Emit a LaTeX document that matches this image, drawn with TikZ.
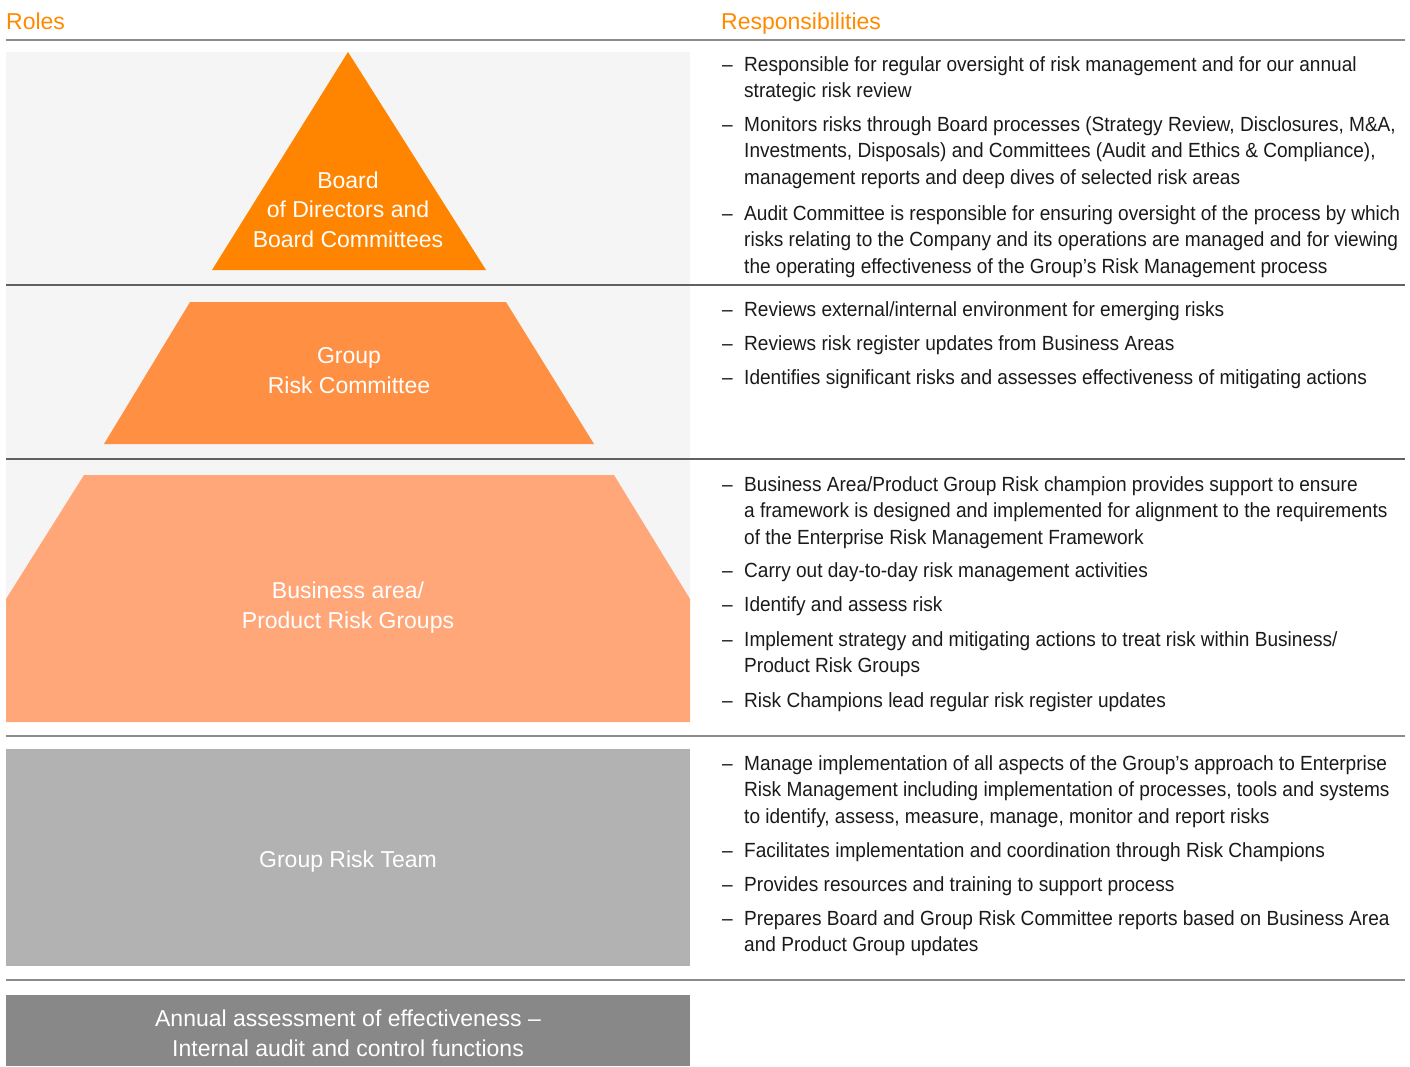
\documentclass[tikz,border=0pt]{standalone}
\usepackage{fontspec}
\setmainfont{Liberation Sans}
\newfontfamily\respfont{Liberation Sans}[FakeStretch=0.93]
\usetikzlibrary{positioning}

\definecolor{hdorange}{HTML}{FF8A00}
\definecolor{tierA}{HTML}{FF8400}
\definecolor{tierB}{HTML}{FF9043}
\definecolor{tierC}{HTML}{FFA778}
\definecolor{tierD}{HTML}{B2B2B2}
\definecolor{tierE}{HTML}{888888}
\definecolor{panelbg}{HTML}{F5F5F5}
\definecolor{resptext}{HTML}{1A1A1A}

\begin{document}
\begin{tikzpicture}[
    x=1pt, y=-1pt,
    head/.style = {anchor=base west, inner sep=0pt, text=hdorange,
                font=\fontsize{23}{28}\selectfont},
    role/.style = {anchor=base, inner sep=0pt, text=white, align=center,
                font=\fontsize{23}{29.3}\selectfont},
    resp/.style = {anchor=base west, inner sep=0pt, align=left, text=resptext,
                font=\respfont\fontsize{20.5}{26.6}\selectfont},
    bullet/.style = {anchor=base west, inner sep=0pt, text=resptext,
                font=\respfont\fontsize{20.5}{26.6}\selectfont},
    rule/.style = {draw=black!45, line width=1.5pt},
    darkrule/.style = {draw=black!62, line width=1.5pt}
                    ]
\useasboundingbox (0,0) rectangle (1410,1066);

% backgrounds and pyramid
\fill[panelbg] (6,52) rectangle (690,722);
\fill[tierA] (348,52) -- (486,270) -- (212,270) -- cycle;
\fill[tierB] (190,302) -- (506,302) -- (594,444) -- (104,444) -- cycle;
\fill[tierC] (84,475) -- (614,475) -- (690,599) -- (690,722) -- (6,722) -- (6,599) -- cycle;
\fill[tierD] (6,749) rectangle (690,966);
\fill[tierE] (6,995) rectangle (690,1066);

% rules
\draw[rule] (6,40) -- (1405,40);
\draw[darkrule] (6,285) -- (1405,285);
\draw[darkrule] (6,459) -- (1405,459);
\draw[rule] (6,736) -- (1405,736);
\draw[rule] (6,980) -- (1405,980);

% headings
\node[head] (roles) at (6,29) {Roles};
\node[head] (respons) at (721,29) {Responsibilities};

% roles (multi-line nodes sit on their last baseline)
\node[role] (board) at (348,247) {Board\\of Directors and\\Board Committees};
\node[role] (grc) at (349,393) {Group\\Risk Committee};
\node[role] (bapr) at (348,628) {Business area/\\Product Risk Groups};
\node[role] (grt) at (348,867) {Group Risk Team};
\node[role] (annual) at (348,1056) {Annual assessment of effectiveness –\\Internal audit and control functions};

% board responsibilities
\node[bullet] (d11) at (722,71) {–};
\node[resp] (r11) at (744,97.6) {Responsible for regular oversight of risk management and for our annual\\strategic risk review};
\node[bullet] (d12) at (722,131) {–};
\node[resp] (r12) at (744,184.2) {Monitors risks through Board processes (Strategy Review, Disclosures, M\&A,\\Investments, Disposals) and Committees (Audit and Ethics \& Compliance),\\management reports and deep dives of selected risk areas};
\node[bullet] (d13) at (722,220) {–};
\node[resp] (r13) at (744,273.2) {Audit Committee is responsible for ensuring oversight of the process by which\\risks relating to the Company and its operations are managed and for viewing\\the operating effectiveness of the Group’s Risk Management process};

% group risk committee responsibilities
\node[bullet] (d21) at (722,316) {–};
\node[resp] (r21) at (744,316) {Reviews external/internal environment for emerging risks};
\node[bullet] (d22) at (722,350) {–};
\node[resp] (r22) at (744,350) {Reviews risk register updates from Business Areas};
\node[bullet] (d23) at (722,384) {–};
\node[resp] (r23) at (744,384) {Identifies significant risks and assesses effectiveness of mitigating actions};

% business area responsibilities
\node[bullet] (d31) at (722,491) {–};
\node[resp] (r31) at (744,544.2) {Business Area/Product Group Risk champion provides support to ensure\\a framework is designed and implemented for alignment to the requirements\\of the Enterprise Risk Management Framework};
\node[bullet] (d32) at (722,577) {–};
\node[resp] (r32) at (744,577) {Carry out day-to-day risk management activities};
\node[bullet] (d33) at (722,611) {–};
\node[resp] (r33) at (744,611) {Identify and assess risk};
\node[bullet] (d34) at (722,646) {–};
\node[resp] (r34) at (744,672.6) {Implement strategy and mitigating actions to treat risk within Business/\\Product Risk Groups};
\node[bullet] (d35) at (722,707) {–};
\node[resp] (r35) at (744,707) {Risk Champions lead regular risk register updates};

% group risk team responsibilities
\node[bullet] (d41) at (722,770) {–};
\node[resp] (r41) at (744,823.2) {Manage implementation of all aspects of the Group’s approach to Enterprise\\Risk Management including implementation of processes, tools and systems\\to identify, assess, measure, manage, monitor and report risks};
\node[bullet] (d42) at (722,857) {–};
\node[resp] (r42) at (744,857) {Facilitates implementation and coordination through Risk Champions};
\node[bullet] (d43) at (722,891) {–};
\node[resp] (r43) at (744,891) {Provides resources and training to support process};
\node[bullet] (d44) at (722,925) {–};
\node[resp] (r44) at (744,951.6) {Prepares Board and Group Risk Committee reports based on Business Area\\and Product Group updates};

\end{tikzpicture}
\end{document}
